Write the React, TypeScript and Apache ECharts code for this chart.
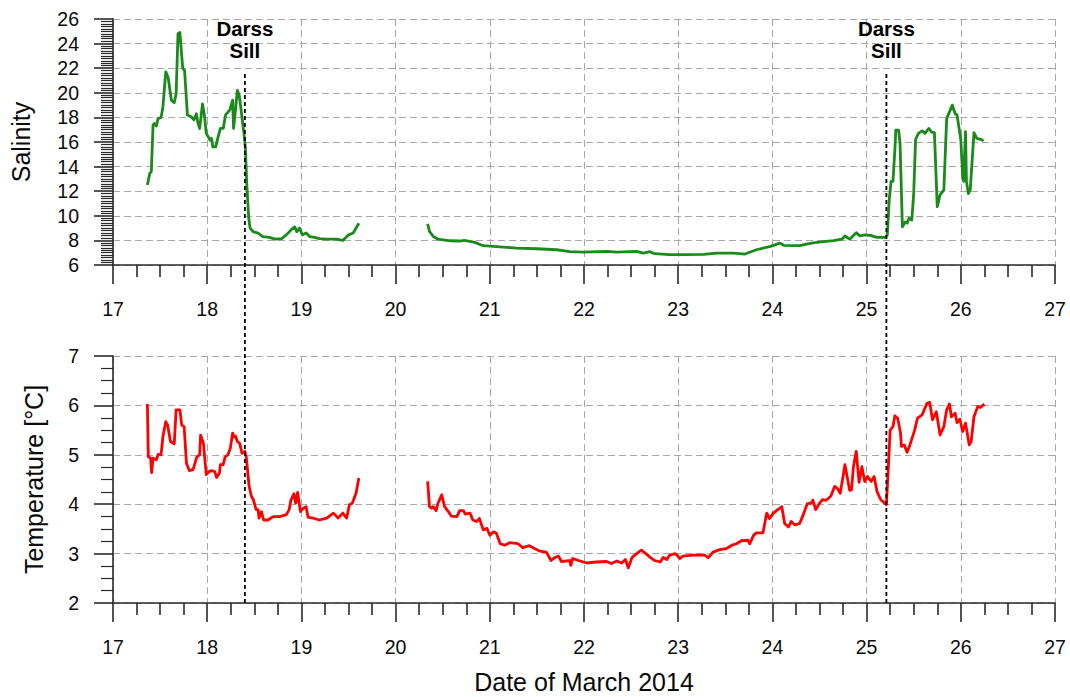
import React, { useEffect, useRef } from "react";
import * as echarts from "echarts";

// ---- Data (day of March 2014, value) ----
const salinityPart1: [number, number][] = [
  [17.365, 12.5], [17.39, 13.44], [17.407, 13.6], [17.425, 17.37], [17.44, 17.5], [17.46, 17.3],
  [17.478, 17.9], [17.51, 18.0], [17.53, 18.85], [17.56, 21.7], [17.584, 21.3], [17.62, 19.4],
  [17.65, 19.2], [17.67, 19.9], [17.69, 24.8], [17.71, 24.9], [17.74, 22.0], [17.76, 21.8],
  [17.79, 18.2], [17.83, 18.05], [17.86, 17.8], [17.885, 18.3], [17.9, 17.6], [17.92, 17.1],
  [17.95, 19.1], [17.97, 18.2], [17.99, 16.7], [18.03, 16.15], [18.045, 16.3], [18.06, 15.6],
  [18.09, 15.6], [18.115, 16.4], [18.14, 17.1], [18.17, 17.1], [18.195, 18.2], [18.24, 18.6],
  [18.27, 19.4], [18.28, 17.1], [18.3, 18.6], [18.32, 20.2], [18.34, 19.8], [18.36, 18.6],
  [18.39, 16.7], [18.405, 15.6], [18.42, 12.6], [18.44, 9.9], [18.455, 9.0], [18.49, 8.7],
  [18.54, 8.6], [18.59, 8.3], [18.66, 8.25], [18.72, 8.1], [18.79, 8.15], [18.84, 8.45],
  [18.89, 8.85], [18.93, 9.1], [18.95, 8.7], [18.98, 9.0], [19.01, 8.45], [19.05, 8.6],
  [19.09, 8.3], [19.14, 8.25], [19.19, 8.15], [19.27, 8.1], [19.37, 8.1], [19.44, 8.0],
  [19.5, 8.45], [19.55, 8.6], [19.61, 9.4],
];

const salinityPart2: [number, number][] = [
  [20.34, 9.35], [20.36, 8.73], [20.4, 8.32], [20.45, 8.1], [20.58, 7.97], [20.68, 7.95],
  [20.73, 8.0], [20.84, 7.84], [20.93, 7.57], [21.07, 7.5], [21.28, 7.38], [21.5, 7.32],
  [21.71, 7.24], [21.85, 7.08], [21.99, 7.05], [22.24, 7.1], [22.35, 7.05], [22.56, 7.1],
  [22.63, 6.97], [22.7, 7.08], [22.75, 6.92], [22.91, 6.84], [23.05, 6.84], [23.27, 6.86],
  [23.41, 6.97], [23.59, 6.97], [23.71, 6.89], [23.83, 7.24], [23.98, 7.51], [24.08, 7.78],
  [24.12, 7.6], [24.29, 7.57], [24.36, 7.7], [24.43, 7.8], [24.54, 7.9], [24.65, 7.98],
  [24.74, 8.1], [24.77, 8.36], [24.82, 8.1], [24.89, 8.63], [24.93, 8.36], [24.98, 8.44],
  [25.04, 8.41], [25.11, 8.25], [25.2, 8.25], [25.22, 8.44], [25.24, 11.3], [25.26, 12.8],
  [25.28, 12.8], [25.3, 15.35], [25.31, 16.97], [25.34, 16.97], [25.355, 15.9], [25.38, 9.1],
  [25.41, 9.5], [25.43, 9.4], [25.45, 9.8], [25.48, 9.66], [25.5, 11.8], [25.52, 16.2],
  [25.55, 16.7], [25.59, 16.9], [25.62, 16.7], [25.66, 17.1], [25.69, 16.8], [25.72, 16.76],
  [25.75, 10.74], [25.78, 11.7], [25.82, 12.1], [25.85, 17.9], [25.91, 19.0], [25.94, 18.3],
  [25.96, 18.2], [26.0, 16.2], [26.02, 13.2], [26.03, 12.8], [26.05, 16.84], [26.06, 12.8],
  [26.08, 11.8], [26.1, 12.1], [26.13, 15.6], [26.14, 16.76], [26.17, 16.3], [26.22, 16.2],
  [26.24, 16.08],
];

const temperaturePart1: [number, number][] = [
  [17.365, 6.03], [17.375, 4.96], [17.4, 4.93], [17.41, 4.64], [17.425, 4.93], [17.46, 4.9],
  [17.48, 5.01], [17.51, 5.0], [17.53, 5.37], [17.56, 5.67], [17.58, 5.6], [17.61, 5.27],
  [17.65, 5.22], [17.67, 5.91], [17.71, 5.91], [17.73, 5.6], [17.755, 5.57], [17.78, 4.83],
  [17.81, 4.68], [17.85, 4.7], [17.89, 4.96], [17.92, 5.0], [17.93, 5.4], [17.96, 5.23],
  [17.99, 4.6], [18.02, 4.66], [18.045, 4.68], [18.08, 4.66], [18.1, 4.54], [18.13, 4.63],
  [18.14, 4.8], [18.17, 4.8], [18.19, 4.96], [18.22, 5.0], [18.245, 5.13], [18.27, 5.44],
  [18.285, 5.36], [18.3, 5.38], [18.32, 5.27], [18.345, 5.23], [18.37, 5.03], [18.4, 5.07],
  [18.415, 4.96], [18.445, 4.36], [18.47, 4.16], [18.49, 4.09], [18.52, 3.89], [18.54, 3.89],
  [18.55, 3.72], [18.575, 3.85], [18.6, 3.68], [18.645, 3.68], [18.7, 3.75], [18.77, 3.75],
  [18.84, 3.79], [18.87, 3.89], [18.89, 4.09], [18.92, 4.21], [18.94, 4.02], [18.96, 4.24],
  [18.99, 3.85], [19.02, 3.92], [19.05, 3.95], [19.07, 3.74], [19.12, 3.72], [19.19, 3.68],
  [19.27, 3.72], [19.34, 3.82], [19.39, 3.72], [19.44, 3.82], [19.48, 3.72], [19.51, 3.99],
  [19.54, 4.02], [19.58, 4.22], [19.61, 4.53],
];

const temperaturePart2: [number, number][] = [
  [20.34, 4.46], [20.36, 3.95], [20.38, 3.92], [20.4, 3.95], [20.43, 3.87], [20.45, 4.02],
  [20.49, 4.19], [20.52, 3.95], [20.56, 3.85], [20.59, 3.76], [20.65, 3.75], [20.68, 3.87],
  [20.72, 3.87], [20.74, 3.8], [20.79, 3.82], [20.82, 3.68], [20.86, 3.65], [20.89, 3.71],
  [20.93, 3.48], [20.97, 3.51], [21.0, 3.37], [21.04, 3.44], [21.07, 3.41], [21.11, 3.2],
  [21.16, 3.17], [21.21, 3.22], [21.3, 3.2], [21.35, 3.12], [21.42, 3.16], [21.48, 3.1],
  [21.53, 3.05], [21.6, 3.03], [21.65, 2.86], [21.69, 2.92], [21.73, 2.95], [21.76, 2.84],
  [21.81, 2.85], [21.85, 2.86], [21.86, 2.76], [21.88, 2.9], [21.94, 2.86], [22.03, 2.81],
  [22.13, 2.83], [22.24, 2.84], [22.29, 2.8], [22.35, 2.85], [22.4, 2.81], [22.44, 2.88],
  [22.47, 2.71], [22.51, 2.92], [22.54, 2.97], [22.58, 3.03], [22.61, 3.07], [22.65, 3.01],
  [22.7, 2.93], [22.75, 2.86], [22.81, 2.83], [22.84, 2.92], [22.88, 2.88], [22.91, 2.97],
  [22.97, 3.0], [23.02, 2.9], [23.05, 2.95], [23.16, 2.97], [23.28, 2.97], [23.32, 2.92],
  [23.37, 3.03], [23.44, 3.08], [23.51, 3.1], [23.57, 3.17], [23.62, 3.2], [23.67, 3.26],
  [23.74, 3.27], [23.76, 3.2], [23.8, 3.37], [23.83, 3.42], [23.9, 3.42], [23.94, 3.82],
  [23.97, 3.71], [24.01, 3.82], [24.05, 3.88], [24.08, 3.92], [24.1, 3.95], [24.13, 3.61],
  [24.17, 3.54], [24.2, 3.65], [24.24, 3.58], [24.29, 3.61], [24.34, 3.85], [24.37, 4.01],
  [24.41, 4.02], [24.43, 4.08], [24.46, 3.89], [24.49, 3.99], [24.53, 4.09], [24.57, 4.08],
  [24.62, 4.16], [24.66, 4.36], [24.69, 4.32], [24.72, 4.22], [24.75, 4.56], [24.77, 4.8],
  [24.8, 4.49], [24.82, 4.28], [24.84, 4.29], [24.86, 4.76], [24.89, 5.07], [24.92, 4.44],
  [24.95, 4.76], [24.98, 4.46], [25.01, 4.56], [25.05, 4.46], [25.08, 4.56], [25.11, 4.26],
  [25.15, 4.09], [25.21, 3.99], [25.23, 4.7], [25.25, 5.5], [25.28, 5.57], [25.3, 5.79],
  [25.33, 5.74], [25.36, 5.44], [25.37, 5.17], [25.4, 5.2], [25.43, 5.05], [25.46, 5.2],
  [25.51, 5.5], [25.54, 5.74], [25.59, 5.81], [25.64, 6.04], [25.67, 6.06], [25.7, 5.71],
  [25.74, 5.87], [25.78, 5.4], [25.82, 5.57], [25.85, 5.91], [25.88, 6.03], [25.9, 5.77],
  [25.94, 5.84], [25.96, 5.65], [25.99, 5.72], [26.02, 5.47], [26.05, 5.64], [26.09, 5.2],
  [26.11, 5.27], [26.14, 5.77], [26.18, 5.98], [26.21, 5.96], [26.25, 6.03],
];

// Darss Sill passages (day of March)
const sillDays = [18.4, 25.21];
const sillLabel = "Darss\nSill";

// Axis ranges
const dayMin = 17;
const dayMax = 27;
const salinityMin = 6;
const salinityMax = 26;
const tempMin = 2;
const tempMax = 7;

const FONT = "'Liberation Sans', Arial, Helvetica, sans-serif";
const AXIS_COLOR = "#2a2a2a";
const TEXT_COLOR = "#0a0a0a";
const GRID_LINE = { color: "#a8a8a8", type: [7, 4] as number[], width: 1 };

function xAxisCfg(gridIndex: number, extra: any = {}) {
  return {
    type: "value",
    gridIndex,
    min: dayMin,
    max: dayMax,
    interval: 1,
    axisLine: { show: true, onZero: false, lineStyle: { color: AXIS_COLOR, width: 1.6 } },
    axisTick: { show: true, inside: false, length: 19, lineStyle: { color: AXIS_COLOR, width: 1.6 } },
    minorTick: { show: true, splitNumber: 4, length: 12, lineStyle: { color: AXIS_COLOR, width: 1.6 } },
    axisLabel: { margin: 34, fontSize: 19.5, color: TEXT_COLOR, fontFamily: FONT },
    splitLine: { show: true, lineStyle: GRID_LINE },
    ...extra,
  };
}

function yAxisCfg(gridIndex: number, min: number, max: number, interval: number, minorSplit: number, name: string, nameGap: number) {
  return {
    type: "value",
    gridIndex,
    min,
    max,
    interval,
    name,
    nameLocation: "middle",
    nameGap,
    nameTextStyle: { fontSize: 25, color: TEXT_COLOR, fontFamily: FONT },
    axisLine: { show: true, onZero: false, lineStyle: { color: AXIS_COLOR, width: 1.6 } },
    axisTick: { show: true, inside: false, length: 19, lineStyle: { color: AXIS_COLOR, width: 1.6 } },
    minorTick: { show: true, splitNumber: minorSplit, length: 12, lineStyle: { color: AXIS_COLOR, width: 1.2 } },
    axisLabel: { margin: 34, fontSize: 19.5, color: TEXT_COLOR, fontFamily: FONT },
    splitLine: { show: true, lineStyle: GRID_LINE },
  };
}

function lineSeries(data: [number, number][], color: string, axisIndex: number) {
  return {
    type: "line",
    xAxisIndex: axisIndex,
    yAxisIndex: axisIndex,
    data,
    symbol: "none",
    showSymbol: false,
    lineStyle: { color, width: 2.8, join: "round" },
    itemStyle: { color },
    silent: true,
    z: 3,
  };
}

export default function App() {
  const ref = useRef<HTMLDivElement>(null);

  useEffect(() => {
    document.body.style.margin = "0";
    if (!ref.current) return;
    const chart = echarts.init(ref.current, undefined, { renderer: "svg" });

    const option: any = {
      animation: false,
      backgroundColor: "#ffffff",
      textStyle: { fontFamily: FONT },
      grid: [
        { left: 113, right: 15, top: 19, height: 246 },
        { left: 113, right: 15, top: 356, height: 247 },
        { left: 113, right: 15, top: 72, bottom: 94 },
      ],
      xAxis: [
        xAxisCfg(0),
        xAxisCfg(1, {
          name: "Date of March 2014",
          nameLocation: "middle",
          nameGap: 66,
          nameTextStyle: { fontSize: 25, color: TEXT_COLOR, fontFamily: FONT },
        }),
        { type: "value", gridIndex: 2, min: dayMin, max: dayMax, show: false },
      ],
      yAxis: [
        yAxisCfg(0, salinityMin, salinityMax, 2, 10, "Salinity", 80),
        yAxisCfg(1, tempMin, tempMax, 1, 4, "Temperature [°C]", 67),
        { type: "value", gridIndex: 2, min: 0, max: 1, show: false },
      ],
      series: [
        lineSeries(salinityPart1, "#1a8a1a", 0),
        lineSeries(salinityPart2, "#1a8a1a", 0),
        lineSeries(temperaturePart1, "#ff0000", 1),
        lineSeries(temperaturePart2, "#ff0000", 1),
        ...sillDays.map((d) => ({
          type: "line",
          xAxisIndex: 2,
          yAxisIndex: 2,
          data: [[d, 0], [d, 1]],
          symbol: "none",
          lineStyle: { color: "#000", width: 1.8, type: [4, 3] },
          silent: true,
          z: 4,
        })),
        {
          type: "scatter",
          xAxisIndex: 2,
          yAxisIndex: 2,
          data: sillDays.map((d) => [d, 1]),
          symbolSize: 0.1,
          itemStyle: { color: "rgba(0,0,0,0)" },
          silent: true,
          label: {
            show: true,
            position: "top",
            distance: 10,
            formatter: sillLabel,
            fontSize: 20.5,
            lineHeight: 22,
            fontWeight: "bold",
            color: "#000",
            opacity: 1,
            textBorderWidth: 0,
            fontFamily: FONT,
            align: "center",
          },
          z: 5,
        },
      ],
    };

    chart.setOption(option);
    return () => chart.dispose();
  }, []);

  return <div ref={ref} style={{ width: 1070, height: 697 }} />;
}
